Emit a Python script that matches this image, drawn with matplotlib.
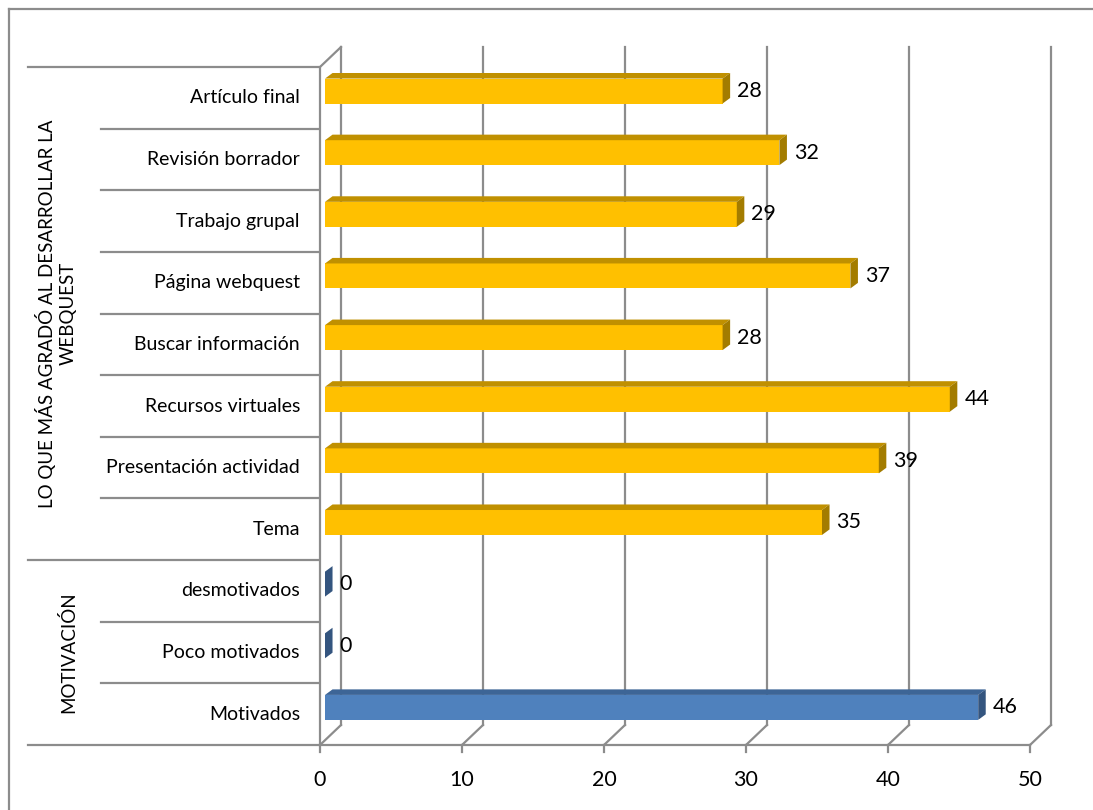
import matplotlib.pyplot as plt
from matplotlib.patches import Polygon
from matplotlib.transforms import blended_transform_factory

plt.rcParams['font.family'] = ['Lato', 'DejaVu Sans']

# bottom to top
categories = ['Motivados', 'Poco motivados', 'desmotivados',
              'Tema', 'Presentación actividad', 'Recursos virtuales',
              'Buscar información', 'Página webquest', 'Trabajo grupal',
              'Revisión borrador', 'Artículo final']
values = [46, 0, 0, 35, 39, 44, 28, 37, 29, 32, 28]
groups = ['MOTIVACIÓN', 'LO QUE MÁS AGRADÓ AL DESARROLLAR LA\nWEBQUEST']
group_sizes = [3, 8]
xticks = [0, 10, 20, 30, 40, 50]

W, H = 1093, 810
fig = plt.figure(figsize=(W / 100, H / 100), dpi=100)
ax = fig.add_axes([320 / W, 65 / H, 710 / W, 678 / H])
ax.set_xlim(0, 50)
ax.set_ylim(-0.5, len(categories) - 0.5)
ax.axis('off')

grid = '#8c8c8c'
lw = 1.6
# depth of the back wall (data units)
dx, dy = 21 / 14.2, 20 / 61.64
top = len(categories) - 0.5
bot = -0.5

# back wall gridlines and floor diagonals
for t in xticks:
    ax.plot([t + dx, t + dx], [bot + dy, top + dy], color=grid, lw=lw,
            clip_on=False, zorder=1)
    ax.plot([t, t + dx], [bot, bot + dy], color=grid, lw=lw,
            clip_on=False, zorder=1)
    ax.plot([t, t], [bot, bot - 0.12], color=grid, lw=lw,
            clip_on=False, zorder=1)
    ax.text(t, bot - 0.57, str(t), ha='center', va='center', fontsize=15.5)
# left wall
ax.plot([0, dx], [top, top + dy], color=grid, lw=lw, clip_on=False, zorder=1)
ax.plot([0, 0], [bot, top], color=grid, lw=lw, clip_on=False, zorder=1)
ax.plot([0, 50], [bot, bot], color=grid, lw=lw, clip_on=False, zorder=1)

# bars with a little depth
b0 = 5 / 14.2
bh = 0.405
yoff = 0.11
ddx, ddy = 0.53, 0.09
colors = ['#4f81bd'] * 3 + ['#ffc000'] * 8
tops = ['#3d6596'] * 3 + ['#c09000'] * 8
sides = ['#34557f'] * 3 + ['#a37c00'] * 8
ys = list(range(len(categories)))
bars = ax.barh([y + yoff for y in ys], values, height=bh, left=b0,
               color=colors, zorder=3, linewidth=0)
ax.set_ylim(-0.5, len(categories) - 0.5)
for y, v, c, tc, sc in zip(ys, values, colors, tops, sides):
    y0 = y + yoff - bh / 2
    y1 = y + yoff + bh / 2
    ax.add_patch(Polygon([(b0, y1), (b0 + v, y1), (b0 + v + ddx, y1 + ddy),
                          (b0 + ddx, y1 + ddy)], closed=True, color=tc,
                         lw=0, zorder=3))
    ax.add_patch(Polygon([(b0 + v, y0), (b0 + v + ddx, y0 + ddy),
                          (b0 + v + ddx, y1 + ddy), (b0 + v, y1)],
                         closed=True, color=sc, lw=0, zorder=3))
    ax.annotate(str(v), (b0 + v + ddx, y + yoff), xytext=(5, 0),
                textcoords='offset points', ha='left', va='center',
                fontsize=15.5, zorder=4)

# category labels and separators
tr = blended_transform_factory(fig.transFigure, ax.transData)
for y, name in zip(ys, categories):
    ax.text(300 / W, y, name, transform=tr, ha='right', va='center',
            fontsize=14)
edges = [0]
for n in group_sizes:
    edges.append(edges[-1] + n)
for k in range(len(categories) + 1):
    x_start = 28 if k in edges else 101
    ax.plot([x_start / W, 318 / W], [k - 0.5, k - 0.5], color=grid, lw=lw,
            transform=tr, clip_on=False)

group_x = [68, 56]
for g, n, start, gx in zip(groups, group_sizes, edges, group_x):
    ax.text(gx / W, start + n / 2 - 0.5, g, transform=tr, rotation=90,
            ha='center', va='center', multialignment='center',
            fontsize=13.5, linespacing=1.25)

# outer chart border
fig.add_artist(plt.Line2D([9 / W, 9 / W], [0, 1 - 9 / H], color=grid,
                          lw=1.6, transform=fig.transFigure))
fig.add_artist(plt.Line2D([9 / W, 1], [1 - 9 / H, 1 - 9 / H], color=grid,
                          lw=1.6, transform=fig.transFigure))

fig.savefig('out.png', dpi=100, facecolor='white')
